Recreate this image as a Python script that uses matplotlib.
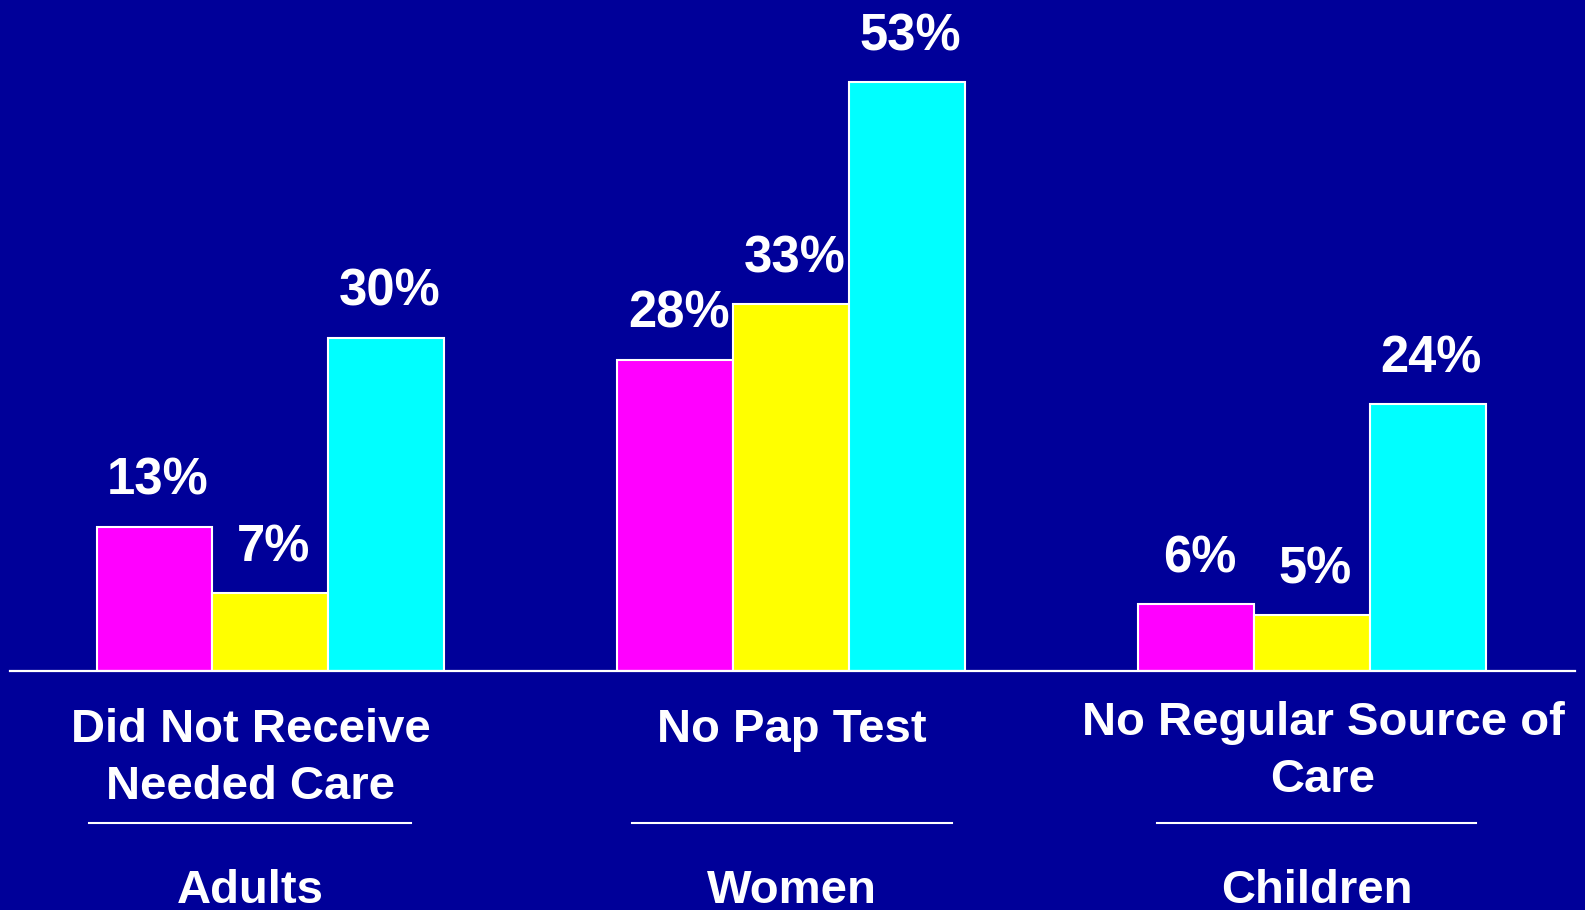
import numpy as np
import matplotlib as mpl
import matplotlib.pyplot as plt
from matplotlib.lines import Line2D

mpl.use('agg')
plt.rcParams['font.family'] = ['Liberation Sans', 'DejaVu Sans']
plt.rcParams['font.weight'] = 'bold'

groups = ['Adults', 'Women', 'Children']
measures = ['Did Not Receive\nNeeded Care', 'No Pap Test', 'No Regular Source of\nCare']
series1 = [13, 28, 6]    # magenta
series2 = [7, 33, 5]     # yellow
series3 = [30, 53, 24]   # cyan

bg = '#000099'
colors = ['#ff00ff', '#ffff00', '#00ffff']

W, H = 1585, 910
fig = plt.figure(figsize=(W / 100, H / 100), dpi=100, facecolor=bg)
# axes: baseline at y=671px, spans x 10..1575px
ax = fig.add_axes([10 / W, (H - 671) / H, 1565 / W, 671 / H])
ax.set_facecolor(bg)

x = np.arange(len(groups))
width = 0.2226
for i, vals in enumerate([series1, series2, series3]):
    bars = ax.bar(x + (i - 1) * width, vals, width, color=colors[i],
                  edgecolor='white', linewidth=1.5, zorder=2)
    for b, v in zip(bars, vals):
        ax.annotate('%d%%' % v, (b.get_x() + b.get_width() / 2, v),
                    xytext=(2.5, 23), textcoords='offset points',
                    ha='center', va='baseline', color='white',
                    fontsize=36.5, fontweight='bold')

ax.set_xlim(-0.5, 2.505)
ax.set_ylim(0, 60.4)
for s in ['top', 'right', 'left']:
    ax.spines[s].set_visible(False)
ax.spines['bottom'].set_color('white')
ax.spines['bottom'].set_linewidth(1.6)
ax.set_xticks([])
ax.set_yticks([])

# category labels below the axis (pixel positions)
label_x = [251, 792, 1323]
label_y = [742, 742, 735]
under_x = [(89, 411), (632, 952), (1157, 1476)]
group_x = [250, 792, 1317]
for i in range(len(groups)):
    lines = measures[i].split('\n')
    for j, line in enumerate(lines):
        fig.text(label_x[i] / W, 1 - (label_y[i] + j * 57) / H, line,
                 ha='center', va='baseline', color='white',
                 fontsize=34, fontweight='bold')
    x0, x1 = under_x[i]
    fig.add_artist(Line2D([x0 / W, x1 / W], [1 - 823 / H, 1 - 823 / H],
                          color='white', linewidth=1.5))
    fig.text(group_x[i] / W, 1 - 903 / H, groups[i],
             ha='center', va='baseline', color='white',
             fontsize=34, fontweight='bold')

fig.savefig('out.png', dpi=100, facecolor=bg)
